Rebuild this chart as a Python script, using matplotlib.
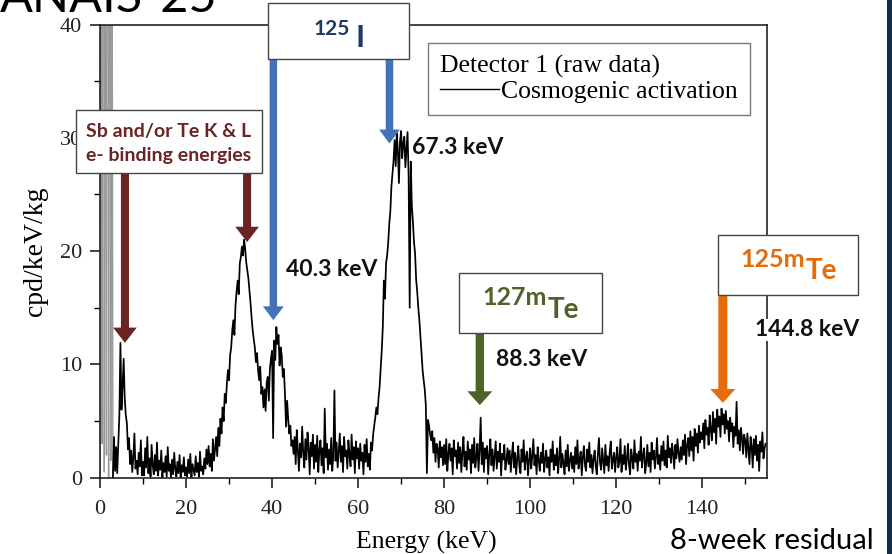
import numpy as np
import matplotlib
matplotlib.use('Agg')
import matplotlib.pyplot as plt
from matplotlib.lines import Line2D
from matplotlib.patches import Rectangle

# spectrum, 0.25 keV bins starting at 0 keV (cpd/keV/kg), one row = 5 keV
rate = [
    0.0, 95, 3.0, 120, 0.5, 88, 2.0, 140, 0.0, 110, 1.5, 70, 0.0, 3.6, 0.6, 2.7, 0.4, 3.0, 5.5, 11.9,
    6.0, 8.0, 10.5, 7.0, 5.5, 4.8, 2.5, 3.5, 1.2, 2.4, 0.5, 1.8, 3.9, 0.8, 1.5, 0.3, 2.2, 1.0, 3.3, 0.2,
    1.4, 0.2, 2.6, 0.9, 3.6, 0.4, 1.7, 0.1, 2.9, 1.1, 0.3, 2.0, 0.6, 3.1, 0.2, 1.5, 0.7, 2.4, 0.0, 1.3,
    0.5, 1.9, 0.1, 2.7, 0.6, 1.2, 0.0, 1.6, 0.3, 2.2, 0.8, 0.1, 1.4, 0.4, 2.0, 0.0, 1.1, 0.5, 1.8, 0.2,
    0.9, 0.1, 1.6, 0.4, 2.1, 0.0, 1.2, 0.7, 0.2, 1.9, 0.5, 1.3, 0.1, 2.3, 0.6, 1.0, 0.3, 1.7, 0.8, 2.5,
    1.2, 2.8, 1.0, 2.1, 0.6, 3.4, 1.5, 2.6, 3.6, 1.9, 4.4, 2.8, 5.2, 3.9, 6.2, 5.0, 7.4, 6.6, 8.3, 9.5,
    8.6, 10.8, 11.5, 13.0, 13.9, 12.6, 15.2, 16.4, 17.4, 16.2, 18.9, 19.5, 20.4, 19.6, 21.0, 20.2, 19.0, 18.3, 17.6, 16.5,
    15.4, 14.1, 13.0, 12.2, 11.5, 10.2, 11.0, 9.5, 8.6, 9.8, 7.4, 8.0, 6.2, 7.8, 5.9, 8.4, 8.9, 6.8, 9.6, 10.5,
    11.2, 3.5, 12.1, 10.4, 13.3, 11.8, 12.6, 9.9, 11.5, 10.8, 8.9, 9.6, 7.4, 4.5, 6.8, 5.2, 3.9, 4.6, 2.8, 3.3,
    2.1, 3.6, 1.2, 4.2, 2.5, 0.6, 3.0, 1.8, 4.5, 2.2, 0.9, 3.4, 1.6, 4.0, 2.7, 0.3, 3.1, 1.9, 3.8, 0.8,
    2.9, 1.4, 3.7, 0.5, 2.4, 3.3, 1.1, 2.6, 0.4, 6.1, 1.8, 3.0, 0.7, 2.5, 1.2, 3.5, 0.6, 2.0, 7.7, 1.5,
    3.1, 0.9, 2.3, 3.9, 1.4, 2.8, 0.5, 3.6, 1.9, 2.4, 0.8, 3.3, 2.0, 1.0, 3.8, 1.6, 2.7, 0.4, 3.2, 1.7,
    2.6, 0.8, 3.0, 1.5, 2.2, 0.3, 2.9, 1.4, 3.4, 1.0, 2.1, 0.7, 3.1, 2.4, 3.8, 4.6, 5.3, 6.2, 5.6, 7.0,
    8.0, 9.6, 11.2, 13.3, 17.4, 15.8, 18.9, 19.6, 20.7, 22.4, 23.5, 25.7, 26.8, 28.0, 29.8, 27.5, 30.4, 28.9, 26.0, 29.7,
    30.6, 28.2, 29.5, 30.1, 27.4, 29.0, 30.5, 26.6, 15.0, 27.9, 24.0, 22.6, 20.8, 19.8, 17.5, 16.4, 15.0, 13.9, 12.5, 11.0,
    9.5, 8.6, 7.8, 6.4, 0.4, 5.1, 4.6, 3.8, 3.3, 4.1, 2.2, 3.5, 1.4, 3.0, 2.6, 0.9, 3.2, 1.8, 2.7, 1.1,
    2.9, 1.2, 3.4, 0.6, 2.1, 3.0, 1.5, 2.6, 0.3, 3.3, 1.9, 2.4, 0.8, 3.1, 1.3, 2.7, 0.5, 2.2, 3.6, 1.0,
    2.3, 0.7, 3.2, 1.6, 2.5, 0.4, 2.9, 1.3, 3.5, 0.9, 1.8, 3.0, 0.6, 2.4, 5.3, 1.2, 3.1, 0.5, 2.6, 1.7,
    2.8, 0.3, 2.0, 3.4, 1.1, 2.5, 0.6, 1.9, 3.2, 0.8, 2.3, 1.4, 3.0, 0.2, 2.1, 1.6, 2.9, 0.7, 1.5, 2.6,
    1.2, 2.4, 0.5, 1.9, 3.1, 0.9, 2.2, 0.3, 1.7, 2.8, 1.0, 0.4, 2.5, 1.4, 3.3, 0.7, 1.8, 2.3, 0.2, 1.5,
    2.6, 0.8, 1.9, 3.4, 1.1, 2.0, 0.3, 2.7, 1.5, 0.6, 2.2, 1.3, 3.0, 0.5, 1.6, 2.4, 0.9, 1.8, 0.2, 2.5,
    1.4, 3.2, 0.7, 2.0, 1.1, 2.6, 0.4, 1.7, 3.6, 0.9, 2.1, 1.3, 0.3, 2.4, 1.0, 2.9, 0.6, 1.5, 2.2, 0.8,
    1.9, 0.5, 2.7, 1.2, 3.3, 0.8, 1.6, 2.3, 0.2, 1.8, 2.8, 1.1, 0.6, 2.5, 1.4, 3.1, 0.9, 2.0, 0.4, 1.7,
    2.4, 1.0, 0.3, 2.1, 3.5, 1.3, 0.7, 2.6, 1.5, 0.4, 2.9, 1.1, 1.9, 0.6, 2.3, 3.2, 0.8, 1.6, 2.2, 0.5,
    1.8, 2.7, 0.9, 1.4, 3.4, 0.5, 2.0, 1.2, 2.8, 0.7, 1.6, 3.0, 1.1, 0.3, 2.5, 1.7, 0.8, 3.3, 1.4, 2.1,
    0.6, 2.3, 1.5, 3.6, 0.9, 1.9, 2.6, 0.4, 1.3, 2.9, 1.0, 2.2, 0.5, 3.1, 1.6, 2.4, 0.8, 1.8, 3.5, 1.2,
    2.0, 0.7, 2.8, 1.5, 3.2, 1.1, 2.4, 0.9, 3.7, 1.8, 2.6, 1.3, 3.0, 2.1, 0.8, 2.9, 1.7, 3.4, 2.2, 1.4,
    2.7, 1.6, 3.3, 2.0, 3.8, 1.2, 2.9, 3.5, 1.9, 4.1, 2.4, 3.6, 1.5, 4.3, 2.8, 3.9, 2.2, 4.6, 3.1, 4.0,
    3.4, 4.8, 2.6, 5.1, 3.8, 4.4, 2.9, 5.5, 4.2, 3.3, 5.8, 4.0, 5.2, 3.0, 6.0, 4.5, 5.4, 3.6, 6.1, 4.7,
    5.6, 3.9, 5.9, 4.3, 5.0, 3.2, 5.3, 4.1, 4.8, 2.7, 4.5, 3.7, 6.7, 3.0, 4.2, 2.4, 4.4, 3.5, 2.1, 3.8,
    3.3, 1.8, 3.9, 2.5, 1.2, 3.6, 2.8, 0.9, 3.4, 2.0, 3.7, 1.5, 2.9, 0.6, 3.2, 2.3, 4.0, 1.7, 2.6, 3.0,
]
bin_width = 0.25
threshold = 3.0  # below this the trace is off-scale noise

# Sb/Te K & L binding energy arrows (keV, arrow tip height)
binding_energy = [5.8, 34.2]
binding_tip = [11.9, 20.8]
# line energies with their labels
i125_energy = [40.3, 67.3]
i125_tip = [13.9, 29.5]
te127m_energy = 88.3
te127m_tip = 6.4
te125m_energy = 144.8
te125m_tip = 6.6

W, H = 892, 554
fig = plt.figure(figsize=(W / 100, H / 100), dpi=100)
ax = fig.add_axes([100 / W, 1 - 477.7 / H, 666.7 / W, 453.2 / H])

def fx(x):
    return x / W

def fy(y):
    return 1 - y / H

energy = np.arange(len(rate)) * bin_width
rate = np.array(rate)
n_low = (energy <= threshold).sum()
ax.plot(energy[:n_low], rate[:n_low], color='0.6', lw=1.0)
ax.plot(energy[n_low - 1:], rate[n_low - 1:], color='black', lw=1.25)

ax.set_xlim(0, 155)
ax.set_ylim(0, 40)
ax.set_xticks(np.arange(0, 141, 20))
ax.set_xticks(np.arange(10, 155, 20), minor=True)
ax.set_yticks(np.arange(0, 41, 10))
ax.set_yticks(np.arange(5, 40, 10), minor=True)
ax.tick_params(which='major', direction='out', length=7, width=1.2, labelsize=16, colors='#222222')
ax.tick_params(which='minor', direction='out', length=4, width=1.0)
ax.tick_params(axis='x', pad=9)
ax.tick_params(axis='y', pad=6)
for lab in ax.get_xticklabels() + ax.get_yticklabels():
    lab.set_fontfamily('Liberation Serif')
for sp in ax.spines.values():
    sp.set_linewidth(1.2)
    sp.set_color('#222222')

ax.set_xlabel('Energy (keV)', fontfamily='Liberation Serif', fontsize=18.5)
ax.set_ylabel('cpd/keV/kg', fontfamily='Liberation Serif', fontsize=20)
ax.xaxis.set_label_coords(0.489, -0.118)
ax.yaxis.set_label_coords(-0.078, 0.50)

leg = ax.legend(handles=[Line2D([], [], color='black', lw=1.0)],
                labels=['Cosmogenic activation'],
                title='Detector 1 (raw data)', alignment='left',
                loc='upper left', bbox_to_anchor=(fx(428), fy(43)),
                bbox_transform=fig.transFigure, borderaxespad=0,
                prop={'family': 'Liberation Serif', 'size': 18.5},
                title_fontproperties={'family': 'Liberation Serif', 'size': 18.5},
                frameon=True, fancybox=False, edgecolor='#555555',
                handlelength=2.3, handletextpad=0.1, borderpad=0.45, labelspacing=0.1)
leg.get_frame().set_linewidth(1.0)


def box(x0, y0, x1, y1):
    fig.add_artist(Rectangle((fx(x0), fy(y1)), fx(x1) - fx(x0), fy(y0) - fy(y1),
                             transform=fig.transFigure, facecolor='white',
                             edgecolor='#444444', lw=1.0, zorder=3))


def arrow(e, tip, tail_px, color, tw, hw, hl):
    ax.annotate('', xy=(e, tip), xycoords='data',
                xytext=(e, fy(tail_px)), textcoords=('data', 'figure fraction'),
                arrowprops=dict(arrowstyle=f'simple,head_length={hl},head_width={hw},tail_width={tw}',
                                mutation_scale=1, fc=color, ec=color, lw=0,
                                shrinkA=0, shrinkB=0),
                annotation_clip=False, zorder=4)


def keV_label(x, y, txt):
    fig.text(fx(x), fy(y), txt, ha='left', va='center', fontsize=16.5, fontweight='bold',
             family='Lato', color='#111111', zorder=5,
             bbox=dict(facecolor='white', edgecolor='none', pad=0.5))


maroon = '#6b2424'
blue = '#4472b8'
green = '#4f6228'
orange = '#e46c0a'

# Sb / Te binding energies
box(76, 110, 262, 173)
fig.text(fx(169), fy(131), 'Sb and/or Te K & L', ha='center', va='center', fontsize=14,
         fontweight='bold', family='Lato', color=maroon, zorder=5)
fig.text(fx(169), fy(156), 'e- binding energies', ha='center', va='center', fontsize=14,
         fontweight='bold', family='Lato', color=maroon, zorder=5)
for e, t in zip(binding_energy, binding_tip):
    arrow(e, t, 173, maroon, 5.8, 17, 11)

# 125I
box(268, 3, 409, 59)
fig.text(fx(314), fy(35), '125', ha='left', va='baseline', fontsize=15,
         fontweight='bold', family='Lato', color='#1f3864', zorder=5)
fig.text(fx(355), fy(47), 'I', ha='left', va='baseline', fontsize=22,
         fontweight='bold', family='Lato', color='#1f3864', zorder=5)
for e, t in zip(i125_energy, i125_tip):
    arrow(e, t, 59, blue, 5.4, 15, 10)
keV_label(286, 270, '40.3 keV')
keV_label(412, 148, '67.3 keV')

# 127mTe
box(459, 273, 602, 333)
fig.text(fx(482), fy(305), '127m', ha='left', va='baseline', fontsize=18,
         fontweight='bold', family='Lato', color=green, zorder=5)
fig.text(fx(548), fy(318), 'Te', ha='left', va='baseline', fontsize=20,
         fontweight='bold', family='Lato', color=green, zorder=5)
arrow(te127m_energy, te127m_tip, 333, green, 6.0, 18, 10)
keV_label(496, 360, '88.3 keV')

# 125mTe
box(718, 235, 858, 295)
fig.text(fx(740), fy(267), '125m', ha='left', va='baseline', fontsize=18,
         fontweight='bold', family='Lato', color=orange, zorder=5)
fig.text(fx(806), fy(279), 'Te', ha='left', va='baseline', fontsize=20,
         fontweight='bold', family='Lato', color=orange, zorder=5)
arrow(te125m_energy, te125m_tip, 295, orange, 6.5, 18, 10)
keV_label(755, 330, '144.8 keV')

# slide decorations
fig.text(fx(0), fy(12), 'ANAIS-25', ha='left', va='baseline', fontsize=35,
         family='Lato', color='black')
fig.text(fx(670), fy(549), '8-week residual', ha='left', va='baseline', fontsize=21,
         family='Lato', color='black')
fig.add_artist(Rectangle((fx(887), 0), fx(892) - fx(887), 1, transform=fig.transFigure,
                         facecolor='#0f2d4c', edgecolor='none', zorder=6))

fig.savefig('out.png', dpi=100)
